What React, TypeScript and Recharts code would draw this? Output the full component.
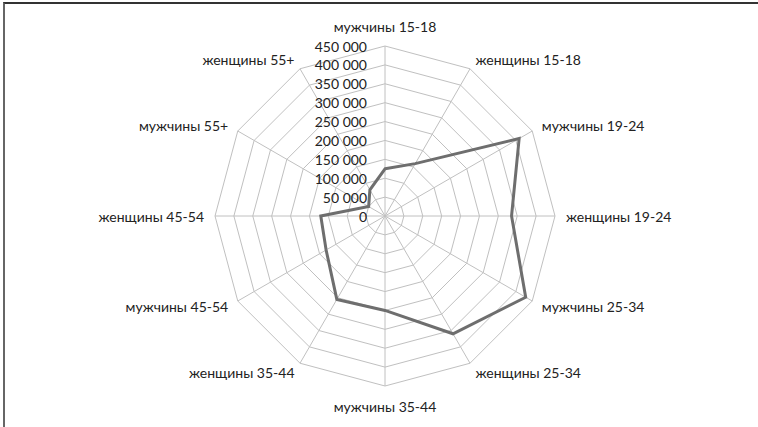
import React from "react";
import {
  RadarChart,
  Radar,
  PolarGrid,
  PolarAngleAxis,
  PolarRadiusAxis,
} from "recharts";

const categories = [
  "мужчины 15-18",
  "женщины 15-18",
  "мужчины 19-24",
  "женщины 19-24",
  "мужчины 25-34",
  "женщины 25-34",
  "мужчины 35-44",
  "женщины 35-44",
  "мужчины 45-54",
  "женщины 45-54",
  "мужчины 55+",
  "женщины 55+",
];

const values = [
  125000, 160000, 410000, 335000, 430000, 360000, 250000, 255000, 180000,
  170000, 50000, 80000,
];

const data = categories.map((name, i) => ({ name, value: values[i] }));

const CX = 385;
const CY = 216;
const R = 170;
const FONT = "Lato, 'Open Sans', sans-serif";

const fmt = (v: number) => String(v).replace(/\B(?=(\d{3})+(?!\d))/g, " ");

const AngleTick = (props: any) => {
  const { x, y, payload } = props;
  const dx = x - CX;
  const dy = y - CY;
  const len = Math.sqrt(dx * dx + dy * dy) || 1;
  const ux = dx / len;
  const uy = dy / len;
  let px = CX + ux * (R + 11);
  let py = CY + uy * (R + 11);
  let anchor: "start" | "end" | "middle" = "middle";
  if (ux > 0.05) anchor = "start";
  else if (ux < -0.05) anchor = "end";
  else py += uy * 9;
  return (
    <text
      x={px}
      y={py}
      textAnchor={anchor}
      dominantBaseline="central"
      fontSize={14}
      fontFamily={FONT}
      fill="#222"
    >
      {payload.value}
    </text>
  );
};

const RadiusTick = (props: any) => {
  const { x, y, payload } = props;
  return (
    <text
      x={x - 18}
      y={y}
      textAnchor="end"
      dominantBaseline="central"
      fontSize={14}
      fontFamily={FONT}
      fill="#222"
    >
      {fmt(payload.value)}
    </text>
  );
};

export default function App() {
  return (
    <div
      style={{
        position: "absolute",
        left: 0,
        top: 0,
        width: 758,
        height: 427,
        background: "#fff",
      }}
    >
      <div
        style={{
          position: "absolute",
          left: 3,
          top: 2,
          width: 755,
          height: 425,
          borderLeft: "2px solid #666",
          borderTop: "2px solid #333",
        }}
      />
      <div style={{ position: "absolute", left: 0, top: 0 }}>
        <RadarChart
          width={758}
          height={427}
          cx={CX}
          cy={CY}
          outerRadius={R}
          data={data}
          margin={{ top: 0, right: 0, bottom: 0, left: 0 }}
        >
          <PolarGrid gridType="polygon" stroke="#c0c0c0" strokeWidth={1} />
          <PolarAngleAxis
            dataKey="name"
            tick={<AngleTick />}
            tickLine={false}
            axisLine={false}
          />
          <PolarRadiusAxis
            angle={90}
            domain={[0, 450000]}
            tickCount={10}
            axisLine={false}
            tickLine={false}
            tick={<RadiusTick />}
          />
          <Radar
            dataKey="value"
            stroke="#6e6e6e"
            strokeWidth={3}
            fill="none"
            fillOpacity={0}
            dot={false}
            isAnimationActive={false}
          />
        </RadarChart>
      </div>
    </div>
  );
}
